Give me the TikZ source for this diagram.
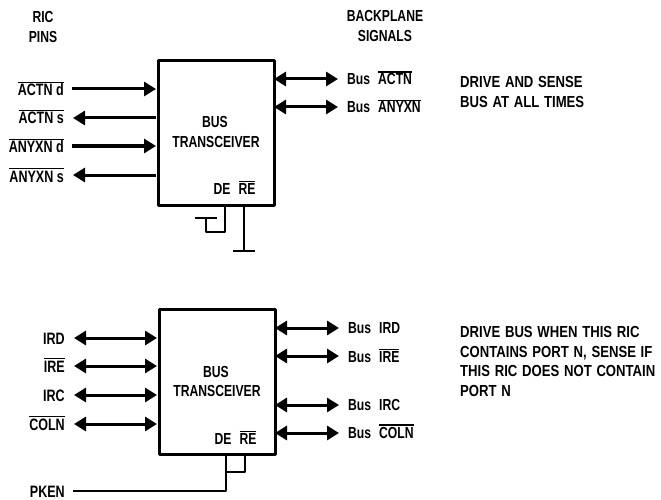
\documentclass[tikz,border=0pt]{standalone}
\usepackage{fontspec}
\setmainfont{Liberation Sans Bold}[FakeStretch=0.76]
\newfontfamily\notefont{Liberation Sans Bold}[FakeStretch=0.82,WordSpace=1.3]
\usetikzlibrary{arrows.meta}
\newcommand{\ob}[1]{\leavevmode\vbox{\hrule height 1.2pt\kern 1.2pt\hbox{#1}}}
\tikzset{
  x=1pt,y=-1pt,
  box/.style={draw,line width=3.2pt,minimum width=116pt,minimum height=145pt,inner sep=0pt,anchor=north west,line join=round},
  pinlabel/.style={anchor=base east,inner sep=0pt,font=\fontsize{16.5}{16}\selectfont},
  sig/.style={anchor=base west,inner sep=0pt,font=\fontsize{16}{16}\selectfont},
  txt/.style={anchor=base west,inner sep=0pt,font=\notefont\fontsize{16}{16}\selectfont},
  head/.style={anchor=base,inner sep=0pt,font=\fontsize{16}{16}\selectfont},
  ctr/.style={anchor=base,inner sep=0pt,font=\fontsize{16}{16}\selectfont},
  wire/.style={line width=3pt},
  thin wire/.style={line width=2.4pt,line join=round},
  tip/.style={{Triangle[length=12pt,width=14pt]}-},
  tipend/.style={-{Triangle[length=12pt,width=14pt]}},
  both/.style={{Triangle[length=12pt,width=14pt]}-{Triangle[length=12pt,width=14pt]}},
}
\begin{document}
\begin{tikzpicture}
\useasboundingbox (0,0) rectangle (661,500);
\node[box] (b1) at (157,59) {};
\node[box] (b2) at (158,308) {};
\node[ctr] (t1a) at (215,128) {BUS};
\node[ctr] (t1) at (216,147) {TRANSCEIVER};
\node[ctr] (t2a) at (216,377) {BUS};
\node[ctr] (t2) at (217,396) {TRANSCEIVER};
\node[head] (de1) at (222,194) {DE};
\node[head] (re1) at (247,194) {\ob{RE}};
\node[head] (de2) at (223,444) {DE};
\node[head] (re2) at (248,444) {\ob{RE}};
% top left
\node[pinlabel] (l1) at (64,96) {\ob{ACTN d}};
\node[pinlabel] (l2) at (64,124) {\ob{ACTN s}};
\node[pinlabel] (l3) at (64,153) {\ob{ANYXN d}};
\node[pinlabel] (l4) at (64,182) {\ob{ANYXN s}};
\coordinate (a1) at (72,89); \coordinate (a1b) at (156,89);
\coordinate (a2) at (73,118); \coordinate (a2b) at (156,118);
\coordinate (a3) at (72,146); \coordinate (a3b) at (156,146);
\coordinate (a4) at (73,175); \coordinate (a4b) at (156,175);
\draw[wire,tipend] (a1) -- (a1b);
\draw[wire,tip] (a2) -- (a2b);
\draw[wire,tipend] (a3) -- (a3b);
\draw[wire,tip] (a4) -- (a4b);
% top right
\coordinate (r1) at (274,79); \coordinate (r1b) at (338,79);
\coordinate (r2) at (274,107); \coordinate (r2b) at (338,107);
\draw[wire,both] (r1) -- (r1b);
\draw[wire,both] (r2) -- (r2b);
\node[sig] (s1) at (347,85) {Bus};
\node[sig] (s1b) at (378,85) {\ob{ACTN}};
\node[sig] (s2) at (347,113) {Bus};
\node[sig] (s2b) at (378,113) {\ob{ANYXN}};
% top pins
\draw[thin wire] (225,205) |- (206,232) -- (206,218);
\draw[thin wire] (195,218) -- (217,218);
\draw[thin wire] (244,205) -- (244,251);
\draw[thin wire] (233,251) -- (255,251);
% bottom left
\node[pinlabel] (m1) at (65,344) {IRD};
\node[pinlabel] (m2) at (65,372) {\ob{IRE}};
\node[pinlabel] (m3) at (65,401) {IRC};
\node[pinlabel] (m4) at (65,430) {\ob{COLN}};
\coordinate (c1) at (74,338); \coordinate (c1b) at (157,338);
\coordinate (c2) at (74,366); \coordinate (c2b) at (157,366);
\coordinate (c3) at (74,395); \coordinate (c3b) at (157,395);
\coordinate (c4) at (74,424); \coordinate (c4b) at (157,424);
\draw[wire,both] (c1) -- (c1b);
\draw[wire,both] (c2) -- (c2b);
\draw[wire,both] (c3) -- (c3b);
\draw[wire,both] (c4) -- (c4b);
% bottom right
\coordinate (d1) at (275,328); \coordinate (d1b) at (339,328);
\coordinate (d2) at (275,356); \coordinate (d2b) at (339,356);
\coordinate (d3) at (275,405); \coordinate (d3b) at (339,405);
\coordinate (d4) at (275,433); \coordinate (d4b) at (339,433);
\draw[wire,both] (d1) -- (d1b);
\draw[wire,both] (d2) -- (d2b);
\draw[wire,both] (d3) -- (d3b);
\draw[wire,both] (d4) -- (d4b);
\node[sig] (u1) at (348,333) {Bus};
\node[sig] (u1b) at (379,333) {IRD};
\node[sig] (u2) at (348,362) {Bus};
\node[sig] (u2b) at (379,362) {\ob{IRE}};
\node[sig] (u3) at (348,410) {Bus};
\node[sig] (u3b) at (379,410) {IRC};
\node[sig] (u4) at (348,438) {Bus};
\node[sig] (u4b) at (379,438) {\ob{COLN}};
% bottom pins
\node[pinlabel] (pk) at (65,497) {PKEN};
\coordinate (pke) at (73,491);
\draw[thin wire] (226,454) |- (pke);
\draw[thin wire] (245,454) |- (226,472);
% headings
\node[head] (h1) at (43,23) {RIC};
\node[head] (h2) at (43,43) {PINS};
\node[head] (h3) at (385,22) {BACKPLANE};
\node[head] (h4) at (385,42) {SIGNALS};
\node[txt] (n1) at (460,88) {DRIVE AND SENSE};
\node[txt] (n2) at (460,108) {BUS AT ALL TIMES};
\node[txt] (n3) at (460,337) {DRIVE BUS WHEN THIS RIC};
\node[txt] (n4) at (460,357) {CONTAINS PORT N, SENSE IF};
\node[txt] (n5) at (460,376) {THIS RIC DOES NOT CONTAIN};
\node[txt] (n6) at (460,396) {PORT N};
\end{tikzpicture}
\end{document}
